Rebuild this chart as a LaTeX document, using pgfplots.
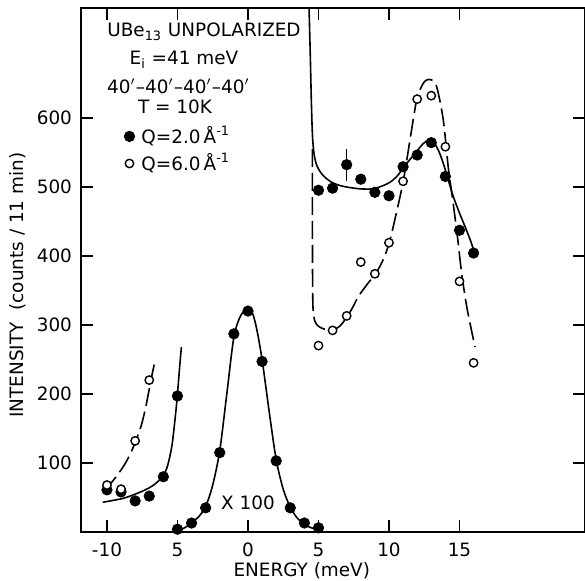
\documentclass[border=0pt]{standalone}
\usepackage{fontspec}
\setmainfont{DejaVu Sans}
\usepackage{pgfplots}
\pgfplotsset{compat=1.18}
\begin{document}
\begin{tikzpicture}[font=\fontsize{9.2}{11}\selectfont]
\begin{axis}[
  scale only axis, width=252pt, height=262pt,
  xmin=-11.84, xmax=23.9, ymin=0, ymax=759,
  xtick={-10,-5,0,5,10,15}, xticklabels={-10,5,0,5,10,15},
  ytick={100,200,300,400,500,600},
  /pgf/number format/assume math mode=true,
  major tick length=6pt,
  axis line style={line width=0.75pt},
  tick style={line width=0.75pt, black},
  xticklabel style={yshift=-2pt},
  yticklabel style={xshift=-1pt},
  xlabel={ENERGY (meV)},
  ylabel={INTENSITY\ \ (counts / 11 min)},
  x label style={at={(axis description cs:0.438,-0.074)}, anchor=center},
  y label style={at={(axis description cs:-0.125,0.471)}, anchor=center},
  legend style={at={(axis cs:-8.8,591)}, anchor=north west, draw=none, fill=none,
    inner sep=0pt, row sep=1.5pt, nodes={inner sep=1pt}, font=\fontsize{9.2}{11}\selectfont,
    /tikz/every odd column/.append style={column sep=2.4pt}},
  legend cell align=left,
  legend image code/.code={\draw[#1] plot coordinates {(0pt,0pt)};},
]
% elastic peak fit (x100)
\addplot[black, line width=0.8pt, smooth, forget plot] coordinates {
 (-5,2) (-4.5,6) (-4,13) (-3.5,22) (-3,37) (-2.5,68) (-2,118) (-1.5,200)
 (-1,282) (-0.5,314) (0,322) (0.3,318) (0.6,296) (1,250) (1.5,175) (2,105)
 (2.5,62) (3,36) (3.5,20) (4,11) (4.5,6) (5,3)};
% low-energy Q=2.0 fit
\addplot[black, line width=0.8pt, smooth, forget plot] coordinates {
 (-10.3,43) (-9.5,46) (-8.8,49) (-8.1,54) (-7.5,59) (-7,64) (-6.5,71) (-6,82)
 (-5.7,96) (-5.4,124) (-5.2,158) (-5.05,188) (-4.94,215) (-4.82,245) (-4.72,268)};
% low-energy Q=6.0 fit
\addplot[black, line width=0.8pt, smooth, dash pattern=on 9pt off 3pt, forget plot] coordinates {
 (-10.2,60) (-9.5,76) (-8.8,96) (-8.3,115) (-7.94,133) (-7.6,152) (-7.3,176)
 (-7.0,207) (-6.8,228) (-6.62,245)};
% high-energy Q=2.0 fit
\addplot[black, line width=0.8pt, smooth, forget plot] coordinates {
 (4.33,760) (4.42,690) (4.5,620) (4.58,572) (4.7,546) (4.9,530) (5.3,517)
 (5.9,507) (6.5,502) (7.2,499) (8,497) (8.8,497) (9.5,501) (10.1,507) (10.6,516)
 (11,527) (11.5,540) (12,552) (12.4,562) (12.8,568) (13.1,567) (13.5,553)
 (13.85,534) (14.2,510) (14.56,486) (15,462) (15.4,442) (15.8,421) (16.05,405)};
% high-energy Q=6.0 fit
\addplot[black, line width=0.8pt, smooth, dash pattern=on 9pt off 3pt, forget plot] coordinates {
 (4.57,555) (4.57,480) (4.575,400) (4.59,345) (4.63,318) (4.75,305) (5.0,298)
 (5.4,294) (5.9,292) (6.5,298) (7.0,311) (7.5,328) (7.82,341) (8.5,360)
 (9.08,375) (9.6,395) (10.02,419) (10.5,460) (11.01,508) (11.49,568) (11.96,626)
 (12.3,645) (12.6,654) (13.0,655) (13.38,645) (13.85,597) (14.2,529) (14.56,475)
 (14.9,420) (15.15,375) (15.5,328) (15.8,297) (16.1,268)};
% Q = 2.0 data
\addplot[black, only marks, mark=*, mark size=2.6pt, mark options={fill=black, draw=black},
  error bars/.cd, y dir=both, y explicit, error mark=none,
  error bar style={line width=0.8pt}] coordinates {
 (-10,61) (-9,58) (-8,45) (-7,52) (-6,80) (-5,197)
 (-5,4) (-4,13) (-3,35) (-2,115) (-1,287) (0,320) (1,247) (2,103) (3,35) (4,13) (5,6)
 (5,495) (6,498) (7,532) +- (0,23) (8,511) (9,492) (10,487) (11,529) (12,546)
 (13,564) (14,515) (15,437) (16,404)};
\addlegendentry{Q=2.0\,Å\textsuperscript{-1}}
% Q = 6.0 data
\addplot[black, only marks, mark=*, mark size=2.1pt,
  mark options={fill=white, draw=black, line width=0.7pt}] coordinates {
 (-10,68) (-9,62) (-8,132) (-7,220)
 (5,270) (6,292) (7,313) (8,391) (9,374) (10,419) (11,508) (12,627) (13,632)
 (14,558) (15,363) (16,245)};
\addlegendentry{Q=6.0\,Å\textsuperscript{-1}}
% annotations
\node[anchor=base west, inner sep=0pt] at (axis cs:-10.0,717) {UBe\textsubscript{13} UNPOLARIZED};
\node[anchor=base west, inner sep=0pt] at (axis cs:-8.42,677) {E\textsubscript{i} =41 meV};
\node[anchor=base west, inner sep=0pt] at (axis cs:-10.02,635) {40$'$--40$'$--40$'$--40$'$};
\node[anchor=base west, inner sep=0pt] at (axis cs:-7.82,606) {T = 10K};
\node[inner sep=0pt] at (axis cs:0,42) {X 100};
\end{axis}
\pgfresetboundingbox
\path ([shift={(-40.5pt,-24.5pt)}]current axis.south west) rectangle ([shift={(0pt,4pt)}]current axis.north east);
\end{tikzpicture}
\end{document}
